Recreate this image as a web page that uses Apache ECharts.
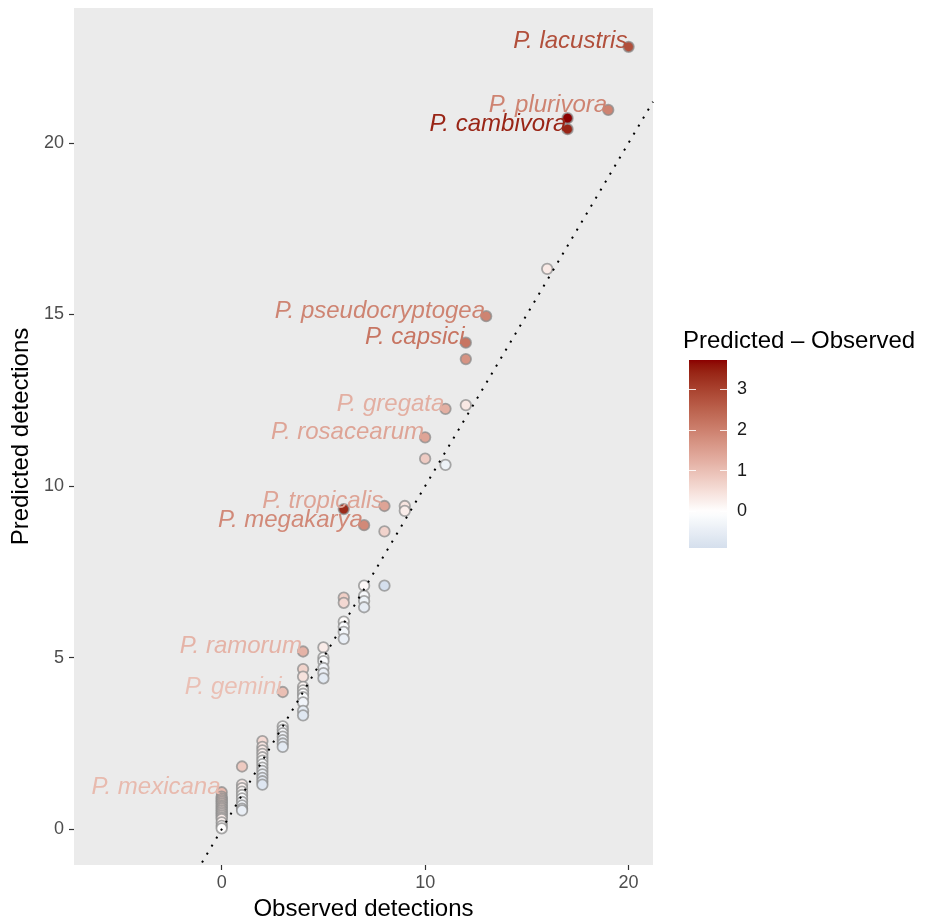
<!DOCTYPE html>
<html>
<head>
<meta charset="utf-8">
<script src="https://cdn.jsdelivr.net/npm/echarts@6/dist/echarts.min.js"></script>
<style>
  html, body { margin: 0; padding: 0; background: #fff; }
  #chart { width: 928px; height: 920px; }
</style>
</head>
<body>
<div id="chart"></div>
<script>
// observed / predicted detections, one entry per species
const observed = [
    0, 0, 0, 0, 0, 0, 0, 0, 0, 0, 0, 0, 0, 0, 0, 0, 0, 0,
    1, 1, 1, 1, 1, 1, 1, 1, 1, 1,
    2, 2, 2, 2, 2, 2, 2, 2, 2, 2, 2, 2, 2,
    3, 3, 3, 3, 3, 3, 3, 3,
    4, 4, 4, 4, 4, 4, 4, 4, 4, 4,
    5, 5, 5, 5, 5, 5,
    6, 6, 6, 6, 6, 6, 6,
    7, 7, 7, 7, 7,
    8, 8, 8,
    9, 9,
    10, 10,
    11, 11,
    12, 12, 12,
    13,
    16,
    17, 17,
    19,
    20
];
const predicted = [
    1.08, 0.95, 0.9, 0.85, 0.8, 0.75, 0.7, 0.65, 0.6, 0.55, 0.5, 0.45, 0.4, 0.35, 0.3, 0.2, 0.1, 0.03,
    1.83, 1.3, 1.2, 1.1, 1.0, 0.9, 0.8, 0.7, 0.6, 0.55,
    2.57, 2.4, 2.3, 2.2, 2.1, 2.0, 1.9, 1.8, 1.7, 1.6, 1.5, 1.4, 1.3,
    4.0, 3.0, 2.9, 2.8, 2.7, 2.6, 2.5, 2.4,
    5.18, 4.67, 4.45, 4.15, 4.05, 3.95, 3.85, 3.7, 3.45, 3.32,
    5.3, 5.0, 4.9, 4.7, 4.55, 4.4,
    9.33, 6.75, 6.6, 6.05, 5.9, 5.75, 5.55,
    8.86, 7.1, 6.8, 6.65, 6.47,
    9.42, 8.68, 7.1,
    9.42, 9.28,
    11.42, 10.8,
    12.25, 10.62,
    14.18, 13.7, 12.36,
    14.95,
    16.33,
    20.72, 20.4,
    20.96,
    22.8
];
const species = [
    'P. mexicana', '', '', '', '', '', '', '', '', '', '', '', '', '', '', '', '', '',
    '', '', '', '', '', '', '', '', '', '',
    '', '', '', '', '', '', '', '', '', '', '', '', '',
    'P. gemini', '', '', '', '', '', '', '',
    'P. ramorum', '', '', '', '', '', '', '', '', '',
    '', '', '', '', '', '',
    '', '', '', '', '', '', '',
    'P. megakarya', '', '', '', '',
    'P. tropicalis', '', '',
    '', '',
    'P. rosacearum', '',
    'P. gregata', '',
    'P. capsici', '', '',
    'P. pseudocryptogea',
    '',
    '', 'P. cambivora',
    'P. plurivora',
    'P. lacustris'
];
const xTicks = [0, 10, 20];
const yTicks = [0, 5, 10, 15, 20];
const legendTicks = [0, 1, 2, 3];

const X_MIN = -7.26, X_MAX = 21.2;
const Y_MIN = -1.04, Y_MAX = 23.93;

const FONT = 'Liberation Sans';

// ---- colour scale (like scale_fill_gradient2, interpolated in Lab) ----
function hexToRgb(h) {
    return [parseInt(h.substr(1, 2), 16), parseInt(h.substr(3, 2), 16), parseInt(h.substr(5, 2), 16)];
}
function toLab(rgb) {
    let [r, g, b] = rgb.map(c => {
        c /= 255;
        return c > 0.04045 ? Math.pow((c + 0.055) / 1.055, 2.4) : c / 12.92;
    });
    let x = (r * 0.4124 + g * 0.3576 + b * 0.1805) / 0.95047;
    let y = (r * 0.2126 + g * 0.7152 + b * 0.0722);
    let z = (r * 0.0193 + g * 0.1192 + b * 0.9505) / 1.08883;
    const f = t => t > 0.008856 ? Math.cbrt(t) : 7.787 * t + 16 / 116;
    x = f(x); y = f(y); z = f(z);
    return [116 * y - 16, 500 * (x - y), 200 * (y - z)];
}
function fromLab(lab) {
    let y = (lab[0] + 16) / 116, x = lab[1] / 500 + y, z = y - lab[2] / 200;
    const fi = t => t * t * t > 0.008856 ? t * t * t : (t - 16 / 116) / 7.787;
    x = fi(x) * 0.95047; y = fi(y); z = fi(z) * 1.08883;
    let r = x * 3.2406 + y * -1.5372 + z * -0.4986;
    let g = x * -0.9689 + y * 1.8758 + z * 0.0415;
    let b = x * 0.0557 + y * -0.2040 + z * 1.0570;
    return [r, g, b].map(c => {
        c = c > 0.0031308 ? 1.055 * Math.pow(c, 1 / 2.4) - 0.055 : 12.92 * c;
        return Math.max(0, Math.min(255, Math.round(c * 255)));
    });
}
function mix(a, b, t) {
    const la = toLab(hexToRgb(a)), lb = toLab(hexToRgb(b));
    const rgb = fromLab(la.map((v, i) => v + (lb[i] - v) * t));
    return 'rgb(' + rgb.join(',') + ')';
}

const residual = predicted.map((p, i) => p - observed[i]);
const R_MIN = Math.min(...residual), R_MAX = Math.max(...residual);
const SPAN = Math.max(Math.abs(R_MIN), Math.abs(R_MAX));

function fillFor(v) {
    return v >= 0 ? mix('#FFFFFF', '#8B0000', v / SPAN) : mix('#FFFFFF', '#4682B4', -v / SPAN);
}

// gradient for the colour bar (top = high)
const barStops = [];
for (let k = 0; k <= 40; k++) {
    const v = R_MAX - (R_MAX - R_MIN) * k / 40;
    barStops.push({ offset: k / 40, color: fillFor(v) });
}

const points = observed.map((o, i) => {
    const col = fillFor(residual[i]);
    const item = {
        value: [o, predicted[i]],
        itemStyle: { color: col }
    };
    if (species[i]) {
        item.label = {
            show: true,
            formatter: species[i],
            color: col
        };
    }
    return item;
});

let chart = echarts.init(document.getElementById('chart'), null, { renderer: 'canvas' });

const tickStyle = { color: '#333', width: 1.2 };
const barTickStyle = { color: 'rgba(255,255,255,0.85)', width: 1 };

chart.setOption({
    animation: false,
    title: {
        text: 'Predicted – Observed',
        left: 678,
        top: 324,
        textStyle: { fontFamily: FONT, fontSize: 24, fontWeight: 'normal', color: '#000' }
    },
    grid: [
        {
            left: 74, top: 8, width: 579, height: 857,
            outerBoundsMode: 'none',
            show: true, backgroundColor: '#EBEBEB', borderWidth: 0
        },
        {
            // colour bar
            left: 689, top: 360, width: 38, height: 188,
            outerBoundsMode: 'none',
            show: true, borderWidth: 0,
            backgroundColor: new echarts.graphic.LinearGradient(0, 0, 0, 1, barStops)
        }
    ],
    xAxis: [
        {
            gridIndex: 0,
            type: 'value',
            min: X_MIN,
            max: X_MAX,
            name: 'Observed detections',
            nameLocation: 'middle',
            nameGap: 31,
            nameTextStyle: { fontFamily: FONT, fontSize: 24, color: '#000' },
            axisLine: { show: false, onZero: false },
            axisTick: { show: true, customValues: xTicks, length: 5, lineStyle: tickStyle },
            axisLabel: { customValues: xTicks, margin: 9, fontFamily: FONT, fontSize: 18, color: '#4D4D4D' },
            splitLine: { show: false }
        },
        {
            gridIndex: 1,
            type: 'value',
            min: 0, max: 1,
            show: false
        }
    ],
    yAxis: [
        {
            gridIndex: 0,
            type: 'value',
            min: Y_MIN,
            max: Y_MAX,
            name: 'Predicted detections',
            nameLocation: 'middle',
            nameGap: 28,
            nameTextStyle: { fontFamily: FONT, fontSize: 24, color: '#000' },
            axisLine: { show: false, onZero: false },
            axisTick: { show: true, customValues: yTicks, length: 5, lineStyle: tickStyle },
            axisLabel: { customValues: yTicks, margin: 10, fontFamily: FONT, fontSize: 18, color: '#4D4D4D' },
            splitLine: { show: false }
        },
        {
            gridIndex: 1,
            type: 'value',
            position: 'right',
            min: R_MIN,
            max: R_MAX,
            axisLine: { show: false, onZero: false },
            axisTick: { show: true, inside: true, customValues: legendTicks, length: 7, lineStyle: barTickStyle },
            axisLabel: { customValues: legendTicks, margin: 10, fontFamily: FONT, fontSize: 18, color: '#1A1A1A' },
            splitLine: { show: false }
        },
        {
            gridIndex: 1,
            type: 'value',
            position: 'left',
            min: R_MIN,
            max: R_MAX,
            axisLine: { show: false, onZero: false },
            axisTick: { show: true, inside: true, customValues: legendTicks, length: 7, lineStyle: barTickStyle },
            axisLabel: { show: false },
            splitLine: { show: false }
        }
    ],
    series: [
        {
            type: 'scatter',
            xAxisIndex: 0,
            yAxisIndex: 0,
            symbolSize: 10.5,
            itemStyle: {
                borderColor: 'rgba(140,140,140,0.75)',
                borderWidth: 1.8,
                opacity: 1
            },
            label: {
                show: false,
                position: 'left',
                distance: 0,
                offset: [5, -5],
                fontFamily: FONT,
                fontSize: 24,
                fontStyle: 'italic'
            },
            data: points,
            z: 2
        },
        {
            // 1:1 line
            type: 'line',
            xAxisIndex: 0,
            yAxisIndex: 0,
            data: [[X_MIN, X_MIN], [X_MAX, X_MAX]],
            symbol: 'none',
            clip: true,
            silent: true,
            lineStyle: { color: '#000', width: 2, type: [2, 7.3] },
            z: 3
        }
    ]
});
</script>
</body>
</html>
